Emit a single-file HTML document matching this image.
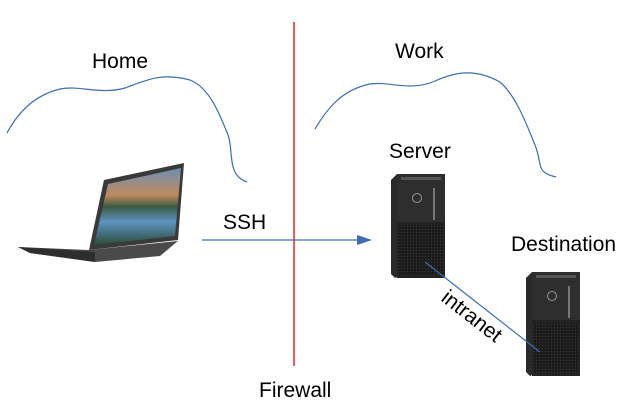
<!DOCTYPE html>
<html><head><style>
html,body{margin:0;padding:0;background:#fff;width:636px;height:418px;overflow:hidden}
text{font-family:"Liberation Sans",sans-serif;fill:#000}
</style></head><body>
<svg width="636" height="418" viewBox="0 0 636 418" xmlns="http://www.w3.org/2000/svg">
<defs>
<linearGradient id="scr" x1="0" y1="0" x2="0" y2="1">
<stop offset="0" stop-color="#6b8fb5"/><stop offset="0.35" stop-color="#c08c5e"/><stop offset="0.5" stop-color="#3b5a40"/><stop offset="0.7" stop-color="#5d93c0"/><stop offset="1" stop-color="#2c4c3a"/></linearGradient>
<pattern id="mesh" width="3" height="3" patternUnits="userSpaceOnUse"><rect width="3" height="3" fill="#1a1a1a"/><circle cx="1.5" cy="1.5" r="0.7" fill="#3a3a3a"/></pattern>
<g id="tower">
<polygon points="0,6 6,0 8,0 8,102 4,104 0,100" fill="#2a2a2a"/>
<rect x="6" y="0" width="48" height="104" fill="#222"/>
<rect x="6" y="0" width="48" height="48" fill="#2e2e2e"/>
<rect x="10" y="3" width="40" height="3" fill="#555"/>
<circle cx="26" cy="24" r="4.5" fill="none" stroke="#999" stroke-width="1"/>
<rect x="42" y="14" width="2" height="32" fill="#777"/>
<rect x="7" y="51" width="46" height="50" fill="url(#mesh)"/>
</g>
</defs>
<path d="M7,133 C15,118 30,96 60,89 C80,85 100,95 125,88 C145,81 160,72 190,80 C210,88 220,115 228,135 C234,150 226,175 247,182" fill="none" stroke="#3e6db0" stroke-width="1.2"/>
<path d="M315,129 C325,112 340,90 370,84 C390,81 410,92 435,81 C455,72 475,68 500,82 C515,95 525,120 535,145 C543,165 535,172 556,177" fill="none" stroke="#3e6db0" stroke-width="1.2"/>
<line x1="294" y1="22" x2="294" y2="366" stroke="#e8262a" stroke-width="1.5"/>
<!-- laptop -->
<polygon points="104,180 184,163 178,240 89,250" fill="#3a3a3a"/>
<polygon points="108,184 181,168 175,236 94,245" fill="url(#scr)"/>
<polygon points="18,247 89,250 178,241 160,256 95,262 30,253" fill="#4a4a4a"/>
<polygon points="18,247 95,252 95,262 30,253" fill="#2e2e2e"/>
<line x1="202" y1="240" x2="360" y2="240" stroke="#3e6db0" stroke-width="1.2"/>
<polygon points="372,240 357,235 357,245" fill="#3e6db0"/>
<text x="223" y="229" font-size="21">SSH</text>
<use href="#tower" x="391" y="174"/>
<use href="#tower" x="526" y="272"/>
<line x1="425" y1="262" x2="540" y2="352" stroke="#3e6db0" stroke-width="1.2"/>
<text x="0" y="0" font-size="21" transform="translate(440,300) rotate(38)">intranet</text>
<text x="92" y="68" font-size="21">Home</text>
<text x="395" y="58" font-size="21">Work</text>
<text x="389" y="158" font-size="21">Server</text>
<text x="511" y="251" font-size="21">Destination</text>
<text x="259" y="397" font-size="21">Firewall</text>
</svg>
</body></html>
